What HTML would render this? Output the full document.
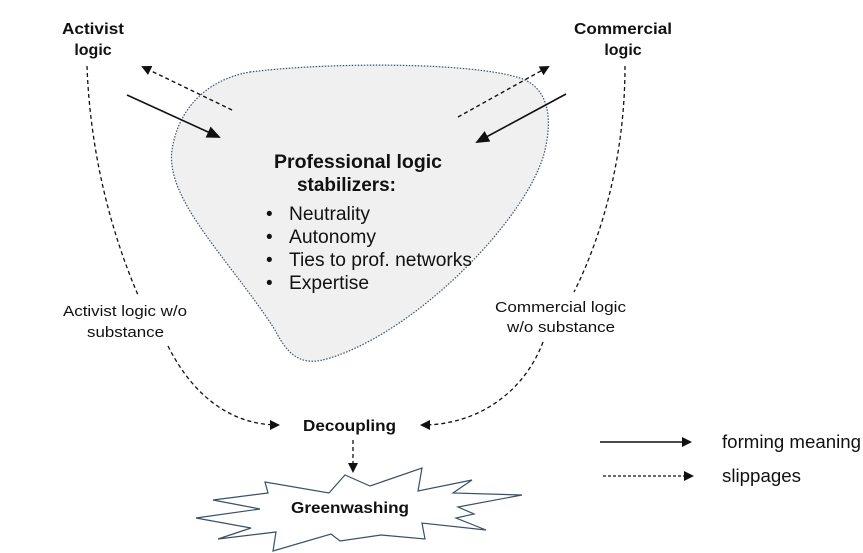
<!DOCTYPE html>
<html><head><meta charset="utf-8"><style>
html,body{margin:0;padding:0;background:#fff;}
svg{display:block;}
text{font-family:"Liberation Sans",sans-serif;fill:#111;}
</style></head><body>
<svg width="863" height="553" viewBox="0 0 863 553" xmlns="http://www.w3.org/2000/svg">
<defs>
<marker id="a" markerWidth="10" markerHeight="10" refX="8" refY="5" orient="auto" markerUnits="userSpaceOnUse"><path d="M0,0 L10,5 L0,10 z" fill="#111"/></marker>
<marker id="b" markerWidth="14" markerHeight="12" refX="12" refY="6" orient="auto" markerUnits="userSpaceOnUse"><path d="M0,0 L14,6 L0,12 z" fill="#111"/></marker>
</defs>
<path d="M250,72 C330,62 470,62 520,78 C550,88 552,120 545,150 C530,215 420,330 330,358 C305,366 290,360 275,330 C230,260 165,200 172,150 C178,110 205,80 250,72 Z" fill="#f0f0f0" stroke="#3a5068" stroke-width="1.2" stroke-dasharray="1.5,1.5"/>
<text x="274" y="168" font-size="19" font-weight="bold" textLength="168" lengthAdjust="spacingAndGlyphs">Professional logic</text>
<text x="297" y="191" font-size="19" font-weight="bold" textLength="99" lengthAdjust="spacingAndGlyphs">stabilizers:</text>
<g font-size="19">
<text x="266" y="220">•</text><text x="289" y="220" textLength="81" lengthAdjust="spacingAndGlyphs">Neutrality</text>
<text x="266" y="243">•</text><text x="289" y="243" textLength="87" lengthAdjust="spacingAndGlyphs">Autonomy</text>
<text x="266" y="266">•</text><text x="289" y="266" textLength="183" lengthAdjust="spacingAndGlyphs">Ties to prof. networks</text>
<text x="266" y="289">•</text><text x="289" y="289" textLength="80" lengthAdjust="spacingAndGlyphs">Expertise</text>
</g>
<text x="62" y="34" font-size="16" font-weight="bold" textLength="62" lengthAdjust="spacingAndGlyphs">Activist</text>
<text x="93" y="55" font-size="16" font-weight="bold" text-anchor="middle">logic</text>
<text x="574" y="34" font-size="16" font-weight="bold" textLength="98" lengthAdjust="spacingAndGlyphs">Commercial</text>
<text x="623" y="55" font-size="16" font-weight="bold" text-anchor="middle">logic</text>
<line x1="232" y1="110" x2="143" y2="67" stroke="#111" stroke-width="1.4" stroke-dasharray="4,3" marker-end="url(#a)"/>
<line x1="127" y1="95" x2="219" y2="137" stroke="#111" stroke-width="1.6" marker-end="url(#b)"/>
<line x1="458" y1="117" x2="548" y2="67" stroke="#111" stroke-width="1.4" stroke-dasharray="4,3" marker-end="url(#a)"/>
<line x1="566" y1="94" x2="477" y2="142" stroke="#111" stroke-width="1.6" marker-end="url(#b)"/>
<path d="M87,66 C90,150 110,230 138,295" fill="none" stroke="#111" stroke-width="1.3" stroke-dasharray="4,3"/>
<path d="M625,66 C625,150 605,230 574,292" fill="none" stroke="#111" stroke-width="1.3" stroke-dasharray="4,3"/>
<text x="63" y="316" font-size="15" textLength="124" lengthAdjust="spacingAndGlyphs">Activist logic w/o</text>
<text x="87" y="337" font-size="15" textLength="77" lengthAdjust="spacingAndGlyphs">substance</text>
<text x="495" y="312" font-size="15" textLength="131" lengthAdjust="spacingAndGlyphs">Commercial logic</text>
<text x="507" y="332" font-size="15" textLength="108" lengthAdjust="spacingAndGlyphs">w/o substance</text>
<path d="M168,346 C195,400 235,425 278,425" fill="none" stroke="#111" stroke-width="1.3" stroke-dasharray="4,3" marker-end="url(#a)"/>
<path d="M543,342 C525,390 480,425 422,425" fill="none" stroke="#111" stroke-width="1.3" stroke-dasharray="4,3" marker-end="url(#a)"/>
<text x="303" y="431" font-size="16" font-weight="bold" textLength="93" lengthAdjust="spacingAndGlyphs">Decoupling</text>
<line x1="353" y1="440" x2="353" y2="471" stroke="#111" stroke-width="1.3" stroke-dasharray="4,3" marker-end="url(#a)"/>
<path d="M345,475 L370,486 L422,468 L418,491 L472,480 L453,493 L522,495 L458,507 L474,514 L456,518 L486,530 L422,523 L425,539 L381,535 L340,541 L331,534 L273,551 L276,532 L218,539 L251,528 L196,518 L260,509 L213,500 L268,493 L265,482 L329,493 Z" fill="#fff" stroke="#3a5068" stroke-width="1.2"/>
<text x="291" y="513" font-size="16" font-weight="bold" textLength="118" lengthAdjust="spacingAndGlyphs">Greenwashing</text>
<line x1="600" y1="442" x2="690" y2="442" stroke="#111" stroke-width="1.6" marker-end="url(#a)"/>
<text x="722" y="448" font-size="18" textLength="139" lengthAdjust="spacingAndGlyphs">forming meaning</text>
<line x1="603" y1="476" x2="692" y2="476" stroke="#111" stroke-width="1.3" stroke-dasharray="3,2" marker-end="url(#a)"/>
<text x="722" y="482" font-size="18" textLength="79" lengthAdjust="spacingAndGlyphs">slippages</text>
</svg>
</body></html>
